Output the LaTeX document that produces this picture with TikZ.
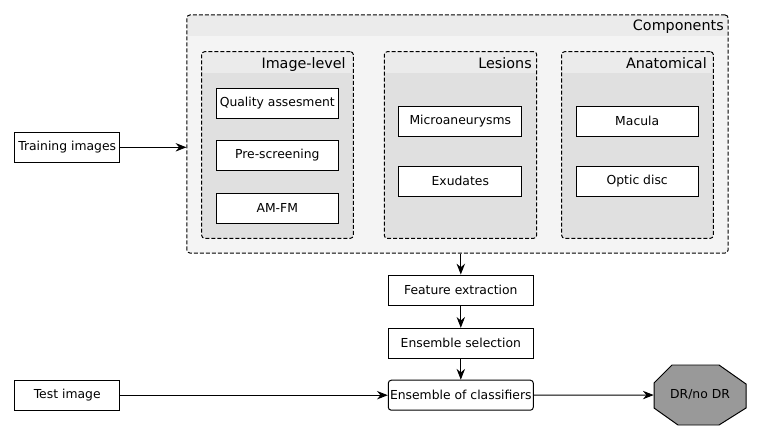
\documentclass[tikz,border=0pt]{standalone}
\usepackage{fontspec}
\setmainfont{DejaVu Sans}
\usetikzlibrary{arrows.meta}
\definecolor{panelhead}{HTML}{EBEBEB}
\definecolor{outerbody}{HTML}{F4F4F4}
\definecolor{innerbody}{HTML}{E0E0E0}
\definecolor{outputgray}{HTML}{999999}

\begin{document}
\begin{tikzpicture}[x=0.025cm, y=-0.025cm,
  stepbox/.style={draw, fill=white, line width=0.7pt, inner sep=0pt,
    minimum height=0.75cm, font=\fontsize{8.8pt}{10pt}\selectfont},
  paneltitle/.style={anchor=base east, inner sep=0pt,
    font=\fontsize{10.2pt}{12pt}\selectfont},
  panelborder/.style={draw, dash pattern=on 0.1cm off 0.05cm,
    line width=0.7pt, rounded corners=0.075cm, inner sep=0pt},
  flow/.style={-{Stealth[length=0.27cm,width=0.21cm]}, line width=0.7pt}]
\useasboundingbox (0,0) rectangle (761,440);

% Draw the outer panel (Components)
\begin{scope}
\clip[rounded corners=0.075cm] (187,15) rectangle (728,253);
\fill[outerbody] (187,15) rectangle (728,253);
\fill[panelhead] (187,15) rectangle (728,36);
\end{scope}
\node[panelborder, minimum width=13.525cm, minimum height=5.95cm] (comp) at (457.5,134) {};
\node[paneltitle] (comptitle) at (724,30.5) {Components};

% Draw the image-level panel
\begin{scope}
\clip[rounded corners=0.075cm] (201.7,51.7) rectangle (353.3,238.3);
\fill[innerbody] (201.7,51.7) rectangle (353.3,238.3);
\fill[panelhead] (201.7,51.7) rectangle (353.3,72.7);
\end{scope}
\node[panelborder, minimum width=3.79cm, minimum height=4.665cm] (imgpanel) at (277.5,145) {};
\node[paneltitle] (imgtitle) at (346,68.5) {Image-level};

% Draw the lesions panel
\begin{scope}
\clip[rounded corners=0.075cm] (384.3,51.7) rectangle (536.7,238.3);
\fill[innerbody] (384.3,51.7) rectangle (536.7,238.3);
\fill[panelhead] (384.3,51.7) rectangle (536.7,72.7);
\end{scope}
\node[panelborder, minimum width=3.81cm, minimum height=4.665cm] (lespanel) at (460.5,145) {};
\node[paneltitle] (lestitle) at (532,68.5) {Lesions};

% Draw the anatomical panel
\begin{scope}
\clip[rounded corners=0.075cm] (561.7,51.7) rectangle (713.3,238.3);
\fill[innerbody] (561.7,51.7) rectangle (713.3,238.3);
\fill[panelhead] (561.7,51.7) rectangle (713.3,72.7);
\end{scope}
\node[panelborder, minimum width=3.79cm, minimum height=4.665cm] (anapanel) at (637.5,145) {};
\node[paneltitle] (anatitle) at (707,68.5) {Anatomical};

% Components inside the panels
\node[stepbox, minimum width=3.05cm] (quality) at (277.3,103.3) {Quality assesment};
\node[stepbox, minimum width=3.05cm] (prescreen) at (277.3,155.3) {Pre-screening};
\node[stepbox, minimum width=3.05cm] (amfm) at (277.3,208.3) {AM-FM};
\node[stepbox, minimum width=3.07cm] (micro) at (460.3,121.3) {Microaneurysms};
\node[stepbox, minimum width=3.07cm] (exudates) at (460.3,181) {Exudates};
\node[stepbox, minimum width=3.06cm] (macula) at (637.2,121.3) {Macula};
\node[stepbox, minimum width=3.06cm] (optic) at (637.2,181) {Optic disc};

% Inputs
\node[stepbox, minimum width=2.61cm] (train) at (67.2,147.3) {Training images};
\node[stepbox, minimum width=2.61cm] (test) at (67.2,395.2) {Test image};

% Pipeline below the panel
\node[stepbox, minimum width=3.625cm] (feature) at (460.8,290) {Feature extraction};
\node[stepbox, minimum width=3.625cm] (selection) at (460.8,343.3) {Ensemble selection};
\node[stepbox, minimum width=3.625cm, rounded corners=0.075cm] (classifiers) at (460.8,395.2) {Ensemble of classifiers};

% Output octagon
\filldraw[fill=outputgray, line width=0.7pt] (672,365) -- (719,365) -- (746,384) -- (746,408)
  -- (719,425) -- (678,425) -- (654,408) -- (654,383) -- cycle;
\node[inner sep=0pt, minimum width=2.3cm, minimum height=1.5cm,
  font=\fontsize{8.8pt}{10pt}\selectfont] (dr) at (700,395) {DR/no DR};

% Arrows
\draw[flow] (train.east) -- (train.east -| comp.west);
\draw[flow] (feature.north |- comp.south) -- (feature.north);
\draw[flow] (feature) -- (selection);
\draw[flow] (selection) -- (classifiers);
\draw[flow] (test) -- (classifiers);
\draw[flow] (classifiers) -- (dr);
\end{tikzpicture}
\end{document}
